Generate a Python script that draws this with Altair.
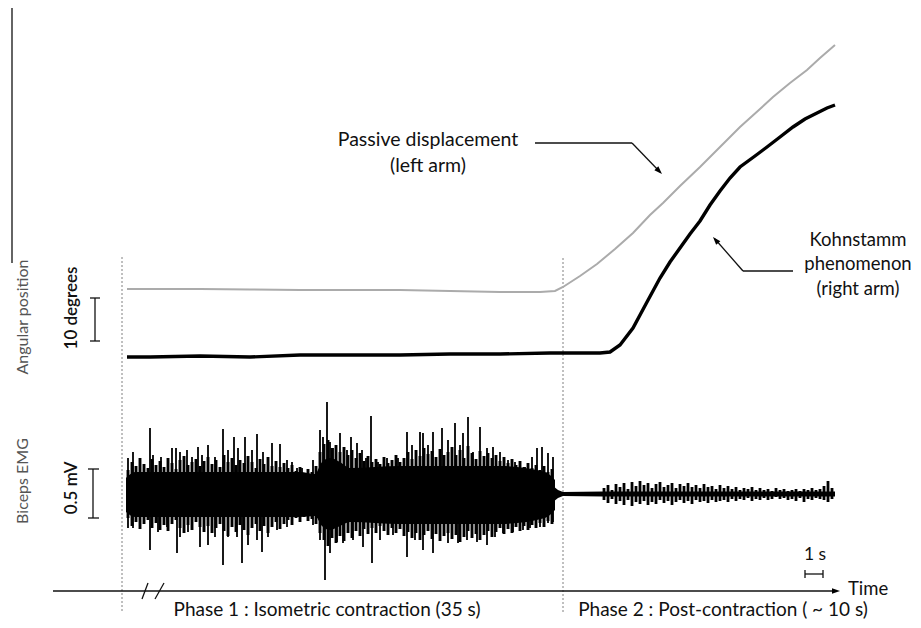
import altair as alt
import pandas as pd

# ---------------- figure frame (figure units) -------------
X_DOMAIN = [8, 913]
Y_DOMAIN = [8, 620]

# ---------------- angular position traces ----------------
passive_x = [127, 160, 200, 250, 300, 350, 400, 450, 500, 540, 555, 563, 580, 597, 615, 633,
             650, 663, 680, 700, 720, 740, 760, 773, 790, 807, 820, 835]
passive_y = [289, 289, 289, 289.5, 290, 290, 290, 291, 292, 292, 291, 287, 276, 264, 249, 233,
             215, 203, 186, 167, 147, 127, 109, 97, 83, 70, 58, 45]

kohn_x = [127, 150, 200, 250, 300, 350, 400, 450, 500, 550, 600, 610, 620, 633, 647, 660, 670,
          680, 690, 700, 710, 720, 730, 740, 755, 767, 780, 793, 805, 817, 827, 835]
kohn_y = [357, 357, 356, 357, 355, 355, 355, 354, 354, 353, 353, 352, 345, 328, 302, 278, 262,
          248, 234, 221, 205, 191, 178, 167, 156, 147, 137, 127, 119, 113, 108, 105]

# ---------------- biceps EMG ----------------
EMG_BASE = 494
emg_base_x = [553, 835]

# dense core of phase 1
emg1_x = [126, 135, 300, 315, 322, 330, 340, 350, 400, 500, 545, 555]
emg1_top = [478, 472, 472, 474, 462, 458, 462, 468, 466, 466, 472, 480]
emg1_bot = [512, 517, 517, 516, 526, 530, 526, 522, 524, 524, 518, 510]

# medium-amplitude bursts of phase 1 (every ~4 px)
emg1_mid_x = [128, 132, 136, 140, 144, 148, 152, 156, 160, 164,
              168, 172, 176, 180, 184, 188, 192, 196, 200, 204,
              208, 212, 216, 220, 224, 228, 232, 236, 240, 244,
              248, 252, 256, 260, 264, 268, 272, 276, 280, 284,
              288, 292, 296, 300, 304, 308, 312, 316, 320, 324,
              328, 332, 336, 340, 344, 348, 352, 356, 360, 364,
              368, 372, 376, 380, 384, 388, 392, 396, 400, 404,
              408, 412, 416, 420, 424, 428, 432, 436, 440, 444,
              448, 452, 456, 460, 464, 468, 472, 476, 480, 484,
              488, 492, 496, 500, 504, 508, 512, 516, 520, 524,
              528, 532, 536, 540, 544, 548, 552]
emg1_mid_top = [470, 462, 466, 458, 464, 468, 459, 465, 461, 467,
                458, 463, 469, 460, 456, 465, 462, 459, 466, 461,
                457, 464, 460, 467, 455, 462, 458, 465, 460, 463,
                456, 462, 468, 459, 464, 457, 466, 461, 467, 463,
                468, 465, 471, 467, 473, 469, 472, 466, 452, 444,
                440, 448, 445, 452, 447, 455, 450, 458, 453, 461,
                456, 462, 459, 464, 457, 463, 460, 455, 462, 458,
                452, 459, 450, 456, 448, 454, 451, 457, 449, 455,
                452, 447, 455, 450, 458, 446, 453, 459, 451, 456,
                453, 458, 455, 461, 457, 463, 459, 465, 461, 467,
                463, 468, 465, 470, 466, 472, 469]
emg1_mid_bot = [518, 526, 522, 529, 524, 520, 528, 523, 530, 525,
                531, 524, 520, 528, 533, 525, 530, 522, 527, 532,
                526, 533, 528, 524, 531, 536, 527, 532, 525, 530,
                535, 528, 524, 531, 526, 533, 527, 522, 529, 524,
                520, 525, 518, 522, 517, 521, 519, 524, 533, 540,
                546, 538, 543, 536, 541, 533, 538, 531, 536, 529,
                534, 528, 533, 526, 531, 535, 528, 533, 529, 536,
                532, 538, 533, 540, 535, 531, 539, 534, 541, 536,
                533, 539, 535, 542, 537, 531, 538, 534, 540, 535,
                531, 537, 532, 528, 534, 529, 533, 527, 531, 526,
                530, 525, 528, 523, 527, 521, 524]

# tall isolated spikes of phase 1
emg1_up_x = [128, 133, 150, 153, 161, 172, 176, 180, 187, 192, 198, 202, 208, 215, 223, 228, 234,
             238, 245, 252, 257, 263, 272, 280, 287, 292, 297, 302, 308, 313, 320, 323, 327, 330,
             333, 340, 347, 351, 357, 362, 366, 371, 378, 387, 392, 398, 407, 412, 420, 423, 428,
             433, 442, 448, 455, 460, 463, 468, 473, 480, 487, 493, 500, 508, 515, 525, 532, 537,
             542, 548, 553]
emg1_up_y = [458, 452, 428, 455, 457, 448, 448, 452, 450, 457, 447, 455, 445, 457, 429, 450, 437,
             448, 437, 450, 434, 452, 443, 444, 460, 462, 468, 468, 470, 460, 430, 437, 402, 442,
             448, 433, 450, 437, 443, 450, 458, 416, 462, 458, 460, 458, 432, 445, 432, 433, 445,
             432, 428, 440, 423, 445, 433, 417, 452, 427, 448, 447, 452, 460, 462, 467, 457, 448,
             447, 453, 457]

emg1_dn_x = [128, 133, 150, 158, 167, 177, 180, 188, 200, 208, 215, 223, 228, 237, 242, 248, 257,
             262, 268, 277, 287, 300, 313, 320, 325, 330, 337, 343, 353, 363, 372, 380, 393, 400,
             407, 415, 423, 433, 440, 448, 458, 467, 477, 487, 495, 503, 513, 523, 530, 540, 548,
             553]
emg1_dn_y = [528, 528, 550, 532, 527, 553, 537, 532, 547, 545, 537, 565, 537, 537, 563, 545, 540,
             552, 537, 530, 527, 518, 525, 540, 580, 553, 542, 543, 540, 547, 563, 540, 535, 528,
             557, 540, 550, 553, 540, 543, 543, 540, 542, 545, 537, 533, 532, 530, 528, 527, 523,
             522]

# phase 2 (post-contraction) core and bursts
emg2_x = [553, 558, 563, 603, 835]
emg2_top = [486, 490, 492, 491.5, 491.5]
emg2_bot = [502, 498, 496, 496.5, 496.5]

emg2_mid_x = [604, 608, 612, 616, 620, 624, 628, 632, 636, 640,
              644, 648, 652, 656, 660, 664, 668, 672, 676, 680,
              684, 688, 692, 696, 700, 704, 708, 712, 716, 720,
              724, 728, 732, 736, 740, 744, 748, 752, 756, 760,
              764, 768, 772, 776, 780, 784, 788, 792, 796, 800,
              804, 808, 812, 816, 820, 824, 828, 832]
emg2_mid_top = [488, 485, 490, 484, 487, 483, 489, 482, 486, 481,
                485, 483, 488, 484, 482, 487, 485, 483, 488, 484,
                486, 483, 487, 485, 488, 484, 487, 486, 489, 485,
                488, 486, 489, 487, 490, 488, 489, 487, 490, 488,
                490, 489, 491, 488, 490, 489, 491, 490, 489, 491,
                489, 490, 488, 490, 489, 486, 481, 488]
emg2_mid_bot = [500, 503, 499, 504, 501, 505, 500, 506, 502, 504,
                501, 505, 502, 504, 500, 503, 501, 505, 502, 500,
                503, 501, 504, 500, 502, 501, 503, 500, 502, 501,
                500, 502, 499, 501, 499, 500, 498, 501, 499, 500,
                498, 500, 499, 497, 499, 498, 500, 499, 501, 498,
                502, 499, 500, 498, 499, 500, 502, 499]

# ---------------- guides, scale bars, axis ----------------
seg_x1 = [12, 122, 563, 53, 142, 155, 95, 90, 90, 93, 88, 88, 805, 805, 823, 535, 632, 743, 743]
seg_y1 = [7, 257, 258, 591, 599, 599, 298, 298, 341, 469, 469, 518, 574, 570, 570, 143, 143, 271, 271]
seg_x2 = [12, 122, 563, 832, 148, 164, 95, 100, 100, 93, 99, 99, 823, 805, 823, 632, 660, 793, 715]
seg_y2 = [263, 612, 612, 591, 583, 583, 341, 298, 341, 518, 469, 518, 574, 578, 578, 143, 172, 271, 239]
seg_kind = ["frame", "dash", "dash", "axis", "axis", "axis", "bar", "bar", "bar", "bar", "bar",
            "bar", "bar", "bar", "bar", "arrow", "arrow", "arrow", "arrow"]

head_x = [662, 713, 840]
head_y = [174, 237, 591]
head_angle = [135, 319, 90]

# ---------------- texts ----------------
lab_text = ["Passive displacement", "(left arm)"]
lab_x = [428, 428]
lab_y = [140, 166]

kohn_text = ["Kohnstamm", "phenomenon", "(right arm)"]
kohn_tx = [858, 858, 858]
kohn_ty = [240, 264, 289]

phase_text = ["Phase 1 : Isometric contraction (35 s)", "Phase 2 :  Post-contraction ( ~ 10 s)"]
phase_x = [327, 723]
phase_y = [610, 610]

small_text = ["1 s"]
small_x = [815]
small_y = [555]

time_text = ["Time"]
time_x = [848]
time_y = [589]

side_text = ["Angular position", "Biceps EMG"]
side_x = [23, 23]
side_y = [317, 481]

unit_text = ["10 degrees", "0.5 mV"]
unit_x = [72, 72]
unit_y = [308, 488]

FONT = "Lato"

xs = alt.Scale(domain=X_DOMAIN, nice=False, zero=False)
ys = alt.Scale(domain=Y_DOMAIN, nice=False, zero=False, reverse=True)


def X(f):
    return alt.X(f, type="quantitative", scale=xs, axis=None)


def Y(f):
    return alt.Y(f, type="quantitative", scale=ys, axis=None)


def text_layer(t, x, y, size, color="#111", weight="normal", align="center", angle=0):
    return alt.Chart(pd.DataFrame({"t": t, "x": x, "y": y})).mark_text(
        font=FONT, fontSize=size, color=color, fontWeight=weight, align=align,
        baseline="middle", angle=angle).encode(x=X("x"), y=Y("y"), text="t:N")


passive = alt.Chart(pd.DataFrame({"x": passive_x, "y": passive_y})).mark_line(
    color="#ababab", strokeWidth=2).encode(x=X("x"), y=Y("y"), order="x:Q")
kohn = alt.Chart(pd.DataFrame({"x": kohn_x, "y": kohn_y})).mark_line(
    color="#000000", strokeWidth=3.4).encode(x=X("x"), y=Y("y"), order="x:Q")

emg_base = alt.Chart(pd.DataFrame({"x": emg_base_x, "y": [EMG_BASE] * len(emg_base_x)})).mark_line(
    color="#111", strokeWidth=1.2).encode(x=X("x"), y=Y("y"))

emg1 = alt.Chart(pd.DataFrame({"x": emg1_x, "t": emg1_top, "b": emg1_bot})).mark_area(
    color="#000", interpolate="monotone").encode(x=X("x"), y=Y("t"), y2="b")
emg2 = alt.Chart(pd.DataFrame({"x": emg2_x, "t": emg2_top, "b": emg2_bot})).mark_area(
    color="#000", interpolate="linear").encode(x=X("x"), y=Y("t"), y2="b")

spikes = pd.concat([
    pd.DataFrame({"x": emg1_mid_x, "v": emg1_mid_top, "w": 2.9}),
    pd.DataFrame({"x": emg1_mid_x, "v": emg1_mid_bot, "w": 2.9}),
    pd.DataFrame({"x": emg1_up_x, "v": emg1_up_y, "w": 1.8}),
    pd.DataFrame({"x": emg1_dn_x, "v": emg1_dn_y, "w": 1.8}),
    pd.DataFrame({"x": emg2_mid_x, "v": emg2_mid_top, "w": 2.8}),
    pd.DataFrame({"x": emg2_mid_x, "v": emg2_mid_bot, "w": 2.8}),
])
spikes["c"] = EMG_BASE
spike_layer = alt.Chart(spikes).mark_rule(color="#000").encode(
    x=X("x"), y=Y("c"), y2="v", strokeWidth=alt.StrokeWidth("w:Q", scale=None))

segs = pd.DataFrame({"x": seg_x1, "y": seg_y1, "x2": seg_x2, "y2": seg_y2, "k": seg_kind})
solid = alt.Chart(segs[segs.k != "dash"]).mark_rule(color="#111", strokeWidth=1.3).encode(
    x=X("x"), y=Y("y"), x2="x2", y2="y2")
dashed = alt.Chart(segs[segs.k == "dash"]).mark_rule(
    color="#808080", strokeWidth=1, strokeDash=[2, 2]).encode(x=X("x"), y=Y("y"), x2="x2", y2="y2")

heads = alt.Chart(pd.DataFrame({"x": head_x, "y": head_y, "a": head_angle})).mark_point(
    shape="M0,0 L-0.7,2 L0.7,2 Z", filled=True, color="#000", size=64, opacity=1).encode(
    x=X("x"), y=Y("y"), angle=alt.Angle("a:Q", scale=None))

labels = text_layer(lab_text, lab_x, lab_y, 19.5)
kohn_labels = text_layer(kohn_text, kohn_tx, kohn_ty, 18.5)
phases = text_layer(phase_text, phase_x, phase_y, 19)
small = text_layer(small_text, small_x, small_y, 17.5)
time_lab = text_layer(time_text, time_x, time_y, 18.5, align="left")
side = text_layer(side_text, side_x, side_y, 16, color="#555", angle=270)
units = text_layer(unit_text, unit_x, unit_y, 17, weight=600, angle=270)

chart = alt.layer(
    dashed, solid, passive, kohn, emg_base, emg1, emg2, spike_layer, heads,
    labels, kohn_labels, phases, small, time_lab, side, units
).properties(
    width=905, height=612, padding=0, autosize=alt.AutoSizeParams(type="none"),
    background="white"
).configure_view(stroke=None)

chart.save("out.html", embed_options={"renderer": "svg", "actions": False})
